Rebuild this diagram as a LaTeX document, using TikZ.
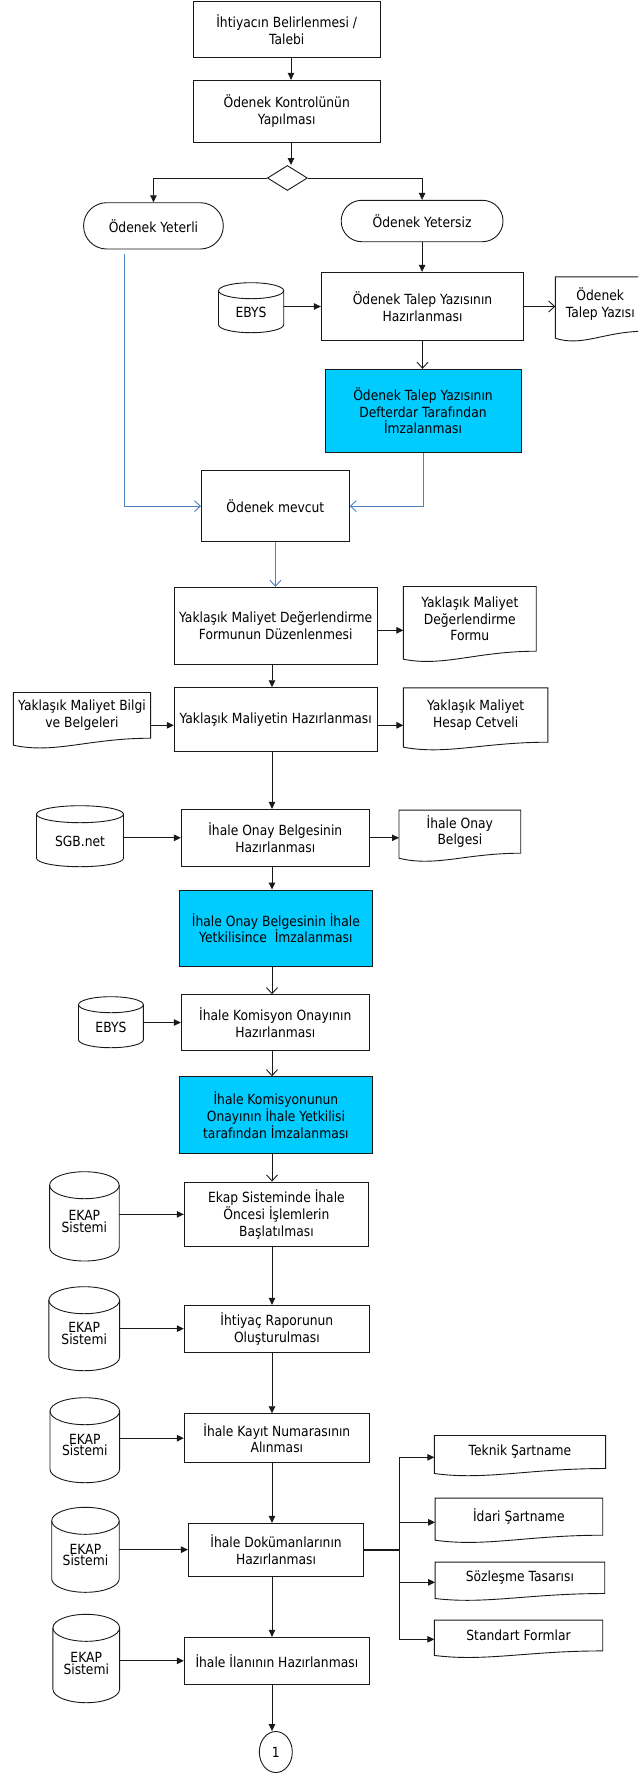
\documentclass[tikz,border=0pt]{standalone}
\usepackage{fontspec}
\setmainfont{DejaVu Sans}[FakeStretch=0.88]
\usetikzlibrary{arrows.meta,shapes.geometric,calc}
\definecolor{cyanfill}{RGB}{0,204,255}
\definecolor{linkblue}{RGB}{79,129,189}
\definecolor{edgec}{RGB}{25,25,25}
\newcommand\mybox[7][]{%
  \pgfmathsetmacro\mybw{#5-#3}\pgfmathsetmacro\mybh{#6-#4}%
  \node[pbox,minimum width=\mybw pt,minimum height=\mybh pt,#1] (#2) at ({(#3+#5)/2},{(#4+#6)/2}) {#7};}
\newcommand\mycyl[7]{%
  \pgfmathsetmacro\mycx{(#2+#4)/2}\pgfmathsetmacro\myrx{(#4-#2)/2}\pgfmathsetmacro\myry{#6/2}%
  \pgfmathsetmacro\myta{#3+#6/2}\pgfmathsetmacro\myba{#5-#6/2}\pgfmathsetmacro\mycy{(#3+#5)/2+5}%
  \pgfmathsetmacro\mybw{#4-#2}%
  \draw[cylline] (\mycx,\myta) ellipse[x radius=\myrx pt,y radius=\myry pt];
  \draw[cylline] (#2,\myta) -- (#2,\myba) arc[start angle=180,end angle=360,x radius=\myrx pt,y radius=\myry pt] -- (#4,\myta);
  \node[cyltext,minimum width=\mybw pt] (#1) at (\mycx,\mycy) {#7};}
\newcommand\mydoc[8]{%
  \pgfmathsetmacro\mybw{#4-#2}\pgfmathsetmacro\mybh{#5-#3}%
  \node[doctext,minimum width=\mybw pt,minimum height=\mybh pt] (#1) at ({(#2+#4)/2},{(#3+#5)/2}) {#8};
  \draw[docline] ([yshift=-#6pt]#1.south west) -- (#1.north west) -- (#1.north east) -- (#1.south east)
     .. controls ($(#1.south east)!0.45!(#1.south west)$) and ($(#1.south west)!0.3!(#1.south east)+(0pt,-#7pt)$) .. ([yshift=-#6pt]#1.south west) -- cycle;}
\begin{document}
\begin{tikzpicture}[x=1pt,y=-1pt,
  font=\fontsize{14}{16.7}\selectfont,
  pbox/.style={draw=edgec,line width=0.9pt,align=center,inner sep=1pt},
  bluebox/.style={fill=cyanfill},
  cylline/.style={draw=edgec,line width=0.9pt},
  cyltext/.style={align=center,inner sep=0pt,font=\fontsize{14}{11.5}\selectfont},
  doctext/.style={align=center,inner sep=1pt},
  docline/.style={draw=edgec,line width=0.9pt},
  arr/.style={draw=edgec,line width=0.9pt,-{Triangle[length=7pt,width=6.5pt]}},
  oarr/.style={draw=edgec,line width=0.9pt,-{Straight Barb[length=6pt,width=11pt]}},
  barr/.style={draw=linkblue,line width=0.9pt,-{Straight Barb[length=6pt,width=11pt]}}]
\useasboundingbox (0,0) rectangle (638,1773);
\clip (0,0) rectangle (638,1773);

\mybox{b1}{193.4}{1.7}{380}{57}{İhtiyacın Belirlenmesi /\\Talebi}
\mybox{b2}{193.4}{80.3}{380}{142.3}{Ödenek Kontrolünün\\Yapılması}
\node[diamond,draw=edgec,line width=0.9pt,minimum width=40pt,minimum height=25pt,inner sep=0pt] (dec) at (287.4,178) {};
\mybox[rounded corners=23pt]{yeterli}{83.6}{202.7}{223.3}{249}{Ödenek Yeterli}
\mybox[rounded corners=20.5pt]{yetersiz}{341.2}{200.3}{503}{241.7}{Ödenek Yetersiz}
\mybox{talep}{321.3}{272.3}{523.7}{340.7}{Ödenek Talep Yazısının\\Hazırlanması}
\mycyl{ebysA}{218.5}{282.7}{283.7}{332.7}{16}{EBYS}
\mydoc{tyazi}{555.5}{277}{645}{331}{7}{16}{Ödenek\\Talep Yazısı}
\mybox[bluebox]{imza1}{325}{369.3}{521}{452.3}{Ödenek Talep Yazısının\\Defterdar Tarafından\\İmzalanması}
\mybox{mevcut}{201.5}{470.7}{349.3}{541.5}{Ödenek mevcut}
\mybox{maldeg}{174.3}{587.3}{377}{664.3}{Yaklaşık Maliyet Değerlendirme\\Formunun Düzenlenmesi}
\mydoc{formu}{403.6}{586.7}{536}{651}{8}{16}{Yaklaşık Maliyet\\Değerlendirme\\Formu}
\mybox{malhaz}{174.3}{687.7}{377}{751.3}{Yaklaşık Maliyetin Hazırlanması}
\mydoc{bilgi}{13.6}{692.7}{150.4}{738}{7}{16}{Yaklaşık Maliyet Bilgi\\ve Belgeleri}
\mydoc{hesap}{403.6}{688}{547.7}{742}{5}{13}{Yaklaşık Maliyet\\Hesap Cetveli}
\mybox{onay}{181.3}{809.3}{369.3}{866.3}{İhale Onay Belgesinin\\Hazırlanması}
\mycyl{sgb}{36.5}{805.7}{123.5}{866.7}{17}{SGB.net}
\mydoc{onayb}{399.2}{810.3}{520.5}{853}{5}{14}{İhale Onay\\Belgesi}
\mybox[bluebox]{imza2}{179.5}{890}{372.3}{966.3}{İhale Onay Belgesinin İhale\\Yetkilisince \ İmzalanması}
\mybox{komis}{181.3}{994.7}{369.3}{1050.3}{İhale Komisyon Onayının\\Hazırlanması}
\mycyl{ebysB}{78.5}{996.7}{143.4}{1047.7}{16}{EBYS}
\mybox[bluebox]{imza3}{179.5}{1076.7}{372.3}{1153.3}{İhale Komisyonunun\\Onayının İhale Yetkilisi\\tarafından İmzalanması}
\mybox{ekapb}{184.3}{1182}{368.6}{1246.7}{Ekap Sisteminde İhale\\Öncesi İşlemlerin\\Başlatılması}
\mycyl{ekA}{49.6}{1171.7}{119.2}{1261}{27}{EKAP\\Sistemi}
\mybox{ihtiyac}{184.3}{1305.3}{369.4}{1352}{İhtiyaç Raporunun\\Oluşturulması}
\mycyl{ekB}{48.8}{1286.7}{119.6}{1370.7}{27}{EKAP\\Sistemi}
\mybox{kayit}{184.3}{1413.7}{369.4}{1462.7}{İhale Kayıt Numarasının\\Alınması}
\mycyl{ekC}{50}{1397.7}{119.6}{1482.7}{27}{EKAP\\Sistemi}
\mybox{dokuman}{188.4}{1523.3}{363.7}{1576}{İhale Dokümanlarının\\Hazırlanması}
\mycyl{ekD}{51.7}{1507.3}{119.2}{1592.3}{27}{EKAP\\Sistemi}
\mybox{ilan}{184.3}{1637.3}{369.4}{1684.3}{İhale İlanının Hazırlanması}
\mycyl{ekE}{52.9}{1614.3}{119.6}{1702.7}{27}{EKAP\\Sistemi}
\node[ellipse,draw=edgec,line width=0.9pt,minimum width=33pt,minimum height=41pt,inner sep=0pt] (c1) at (275.8,1752) {1};
\mydoc{teknik}{434.5}{1435.7}{605.4}{1468.3}{5}{12}{Teknik Şartname}
\mydoc{idari}{435.3}{1498.3}{602.5}{1535}{5}{12}{İdari Şartname}
\mydoc{sozl}{435.3}{1562.3}{604.5}{1593.3}{5}{11}{Sözleşme Tasarısı}
\mydoc{stdf}{434.5}{1620.3}{602.5}{1650.7}{4.5}{11}{Standart Formlar}

\coordinate (colx) at (272,0);
\coordinate (colu) at (291,0);
\coordinate (yb) at ([xshift=-29pt,yshift=-5pt]yeterli.south);
\coordinate (yf) at (0,630.3);
\coordinate (yh) at (0,725.3);
\coordinate (brT) at (399,1457.3);
\coordinate (brI) at (399,1522.3);
\coordinate (brS) at (399,1582.3);
\coordinate (brB) at (399,1639.3);

\draw[arr] (b1.south -| colu) -- (b2.north -| colu);
\draw[arr] (b2.south -| colu) -- (dec.north -| colu);
\draw[arr] (dec.west) -| (yeterli.north);
\draw[arr] (dec.east) -| (yetersiz.north);
\draw[arr] (yetersiz.south) -- (yetersiz.south |- talep.north);
\draw[arr] (ebysA.east |- talep.west) -- (talep.west);
\draw[oarr] (talep.east) -- (talep.east -| tyazi.west);
\draw[oarr] (talep.south) -- (talep.south |- imza1.north);
\draw[barr] (yb) |- (mevcut.west);
\draw[barr] (imza1.south) |- (mevcut.east);
\draw[barr] (mevcut.south) -- (mevcut.south |- maldeg.north);
\draw[arr] (maldeg.east |- yf) -- (formu.west |- yf);
\draw[arr] (maldeg.south -| colx) -- (malhaz.north -| colx);
\draw[arr] (bilgi.east |- yh) -- (malhaz.west |- yh);
\draw[arr] (malhaz.east |- yh) -- (hesap.west |- yh);
\draw[arr] (malhaz.south -| colx) -- (onay.north -| colx);
\draw[arr] (sgb.east |- onay.west) -- (onay.west);
\draw[arr] (onay.east) -- (onay.east -| onayb.west);
\draw[arr] (onay.south -| colx) -- (imza2.north -| colx);
\draw[oarr] (imza2.south -| colx) -- (komis.north -| colx);
\draw[arr] (ebysB.east |- komis.west) -- (komis.west);
\draw[oarr] (komis.south -| colx) -- (imza3.north -| colx);
\draw[oarr] (imza3.south -| colx) -- (ekapb.north -| colx);
\draw[arr] (ekA.east |- ekapb.west) -- (ekapb.west);
\draw[arr] (ekapb.south -| colx) -- (ihtiyac.north -| colx);
\draw[arr] (ekB.east |- ihtiyac.west) -- (ihtiyac.west);
\draw[arr] (ihtiyac.south -| colx) -- (kayit.north -| colx);
\draw[arr] (ekC.east |- kayit.west) -- (kayit.west);
\draw[arr] (kayit.south -| colx) -- (dokuman.north -| colx);
\draw[arr] (ekD.east |- dokuman.west) -- (dokuman.west);
\draw[arr] (dokuman.south -| colx) -- (ilan.north -| colx);
\draw[arr] (ekE.east |- ilan.west) -- (ilan.west);
\draw[arr] (ilan.south -| colx) -- (c1.north -| colx);
\draw[edgec,line width=2pt] (dokuman.east) -- (dokuman.east -| brT);
\draw[edgec,line width=0.9pt] (brT) -- (brB);
\draw[arr] (brT) -- (brT -| teknik.west);
\draw[arr] (brI) -- (brI -| idari.west);
\draw[arr] (brS) -- (brS -| sozl.west);
\draw[arr] (brB) -- (brB -| stdf.west);
\end{tikzpicture}
\end{document}
